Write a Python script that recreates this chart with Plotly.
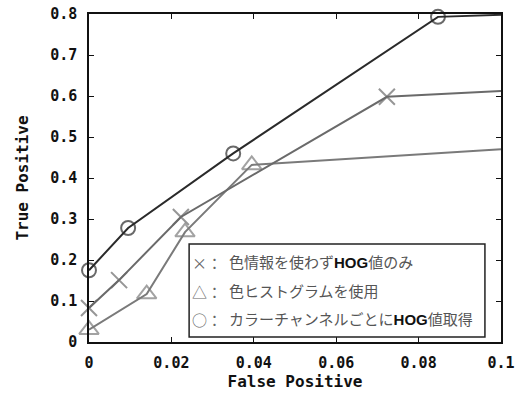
import plotly.graph_objects as go

# Data
fp_hog = [0.0, 0.0073, 0.0223, 0.0723, 0.1]
tp_hog = [0.083, 0.151, 0.305, 0.598, 0.612]
fp_hist = [0.0, 0.014, 0.0233, 0.0395, 0.1]
tp_hist = [0.03, 0.117, 0.268, 0.432, 0.47]
fp_chan = [0.0, 0.0095, 0.035, 0.0847, 0.1]
tp_chan = [0.175, 0.278, 0.46, 0.793, 0.798]

x_ticks = [0, 0.02, 0.04, 0.06, 0.08, 0.1]
x_tick_labels = ["0", "0.02", "0.04", "0.06", "0.08", "0.1"]
y_ticks = [0, 0.1, 0.2, 0.3, 0.4, 0.5, 0.6, 0.7, 0.8]
y_tick_labels = ["0", "0.1", "0.2", "0.3", "0.4", "0.5", "0.6", "0.7", "0.8"]

legend_symbols = ["×：", "△：", "○："]
legend_texts = [
    "色情報を使わず<b><span style='color:#111'>HOG</span></b>値のみ",
    "色ヒストグラムを使用",
    "カラーチャンネルごとに<b><span style='color:#111'>HOG</span></b>値取得",
]
legend_y = [0.193, 0.122, 0.054]

mono = "DejaVu Sans Mono"
jp = "Liberation Sans, Noto Sans CJK JP"
cjk = "Noto Sans CJK JP"

fig = go.Figure()

def add_series(xs, ys, color, symbol, size):
    sizes = [size] * (len(xs) - 1) + [0]
    fig.add_trace(go.Scatter(
        x=xs, y=ys, mode="lines+markers",
        line=dict(color=color, width=2),
        marker=dict(symbol=symbol, size=sizes, color=color,
                    line=dict(color=color, width=2)),
        cliponaxis=False, showlegend=False,
    ))

add_series(fp_hist, tp_hist, "#7a7a7a", "triangle-up-open", 17)
add_series(fp_hog, tp_hog, "#6a6a6a", "x-thin-open", 16)
add_series(fp_chan, tp_chan, "#2a2a2a", "circle-open", 14)

# legend box
fig.add_shape(type="rect", xref="x", yref="y",
              x0=0.0243, x1=0.0961, y0=0.012, y1=0.239,
              line=dict(color="#222", width=1.5), fillcolor="white", layer="above")

for sym, txt, yy in zip(legend_symbols, legend_texts, legend_y):
    fig.add_annotation(xref="x", yref="y", x=0.0246, y=yy, text=sym,
                       showarrow=False, xanchor="left", yanchor="middle",
                       font=dict(family=cjk, size=15, color="#666"))
    fig.add_annotation(xref="x", yref="y", x=0.0335, y=yy, text=txt,
                       showarrow=False, xanchor="left", yanchor="middle",
                       font=dict(family=jp, size=15, color="#555"))

axis_common = dict(
    showline=True, linecolor="#111", linewidth=1.5, mirror="ticks",
    ticks="inside", ticklen=5, tickwidth=1, tickcolor="#111",
    showgrid=False, zeroline=False,
    tickfont=dict(family=mono, size=15, color="#111", weight="bold"),
)

fig.update_xaxes(range=[0, 0.1], tickvals=x_ticks, ticktext=x_tick_labels,
                 title=dict(text="<b>False Positive</b>", standoff=4,
                            font=dict(family=mono, size=16, color="#111")),
                 ticklabelstandoff=6,
                 **axis_common)
fig.update_yaxes(range=[0, 0.8], tickvals=y_ticks, ticktext=y_tick_labels,
                 title=dict(text="<b>True Positive</b>", standoff=18,
                            font=dict(family=mono, size=16, color="#111")),
                 ticklabelstandoff=7,
                 **axis_common)

fig.update_layout(
    width=524, height=396,
    margin=dict(l=89, r=23, t=14, b=54, autoexpand=False),
    paper_bgcolor="white", plot_bgcolor="white",
)

# remove the default page margin so the figure fills the window exactly
fig.write_html("out.html", config={"displayModeBar": False},
               post_script="document.body.style.margin='0';")
